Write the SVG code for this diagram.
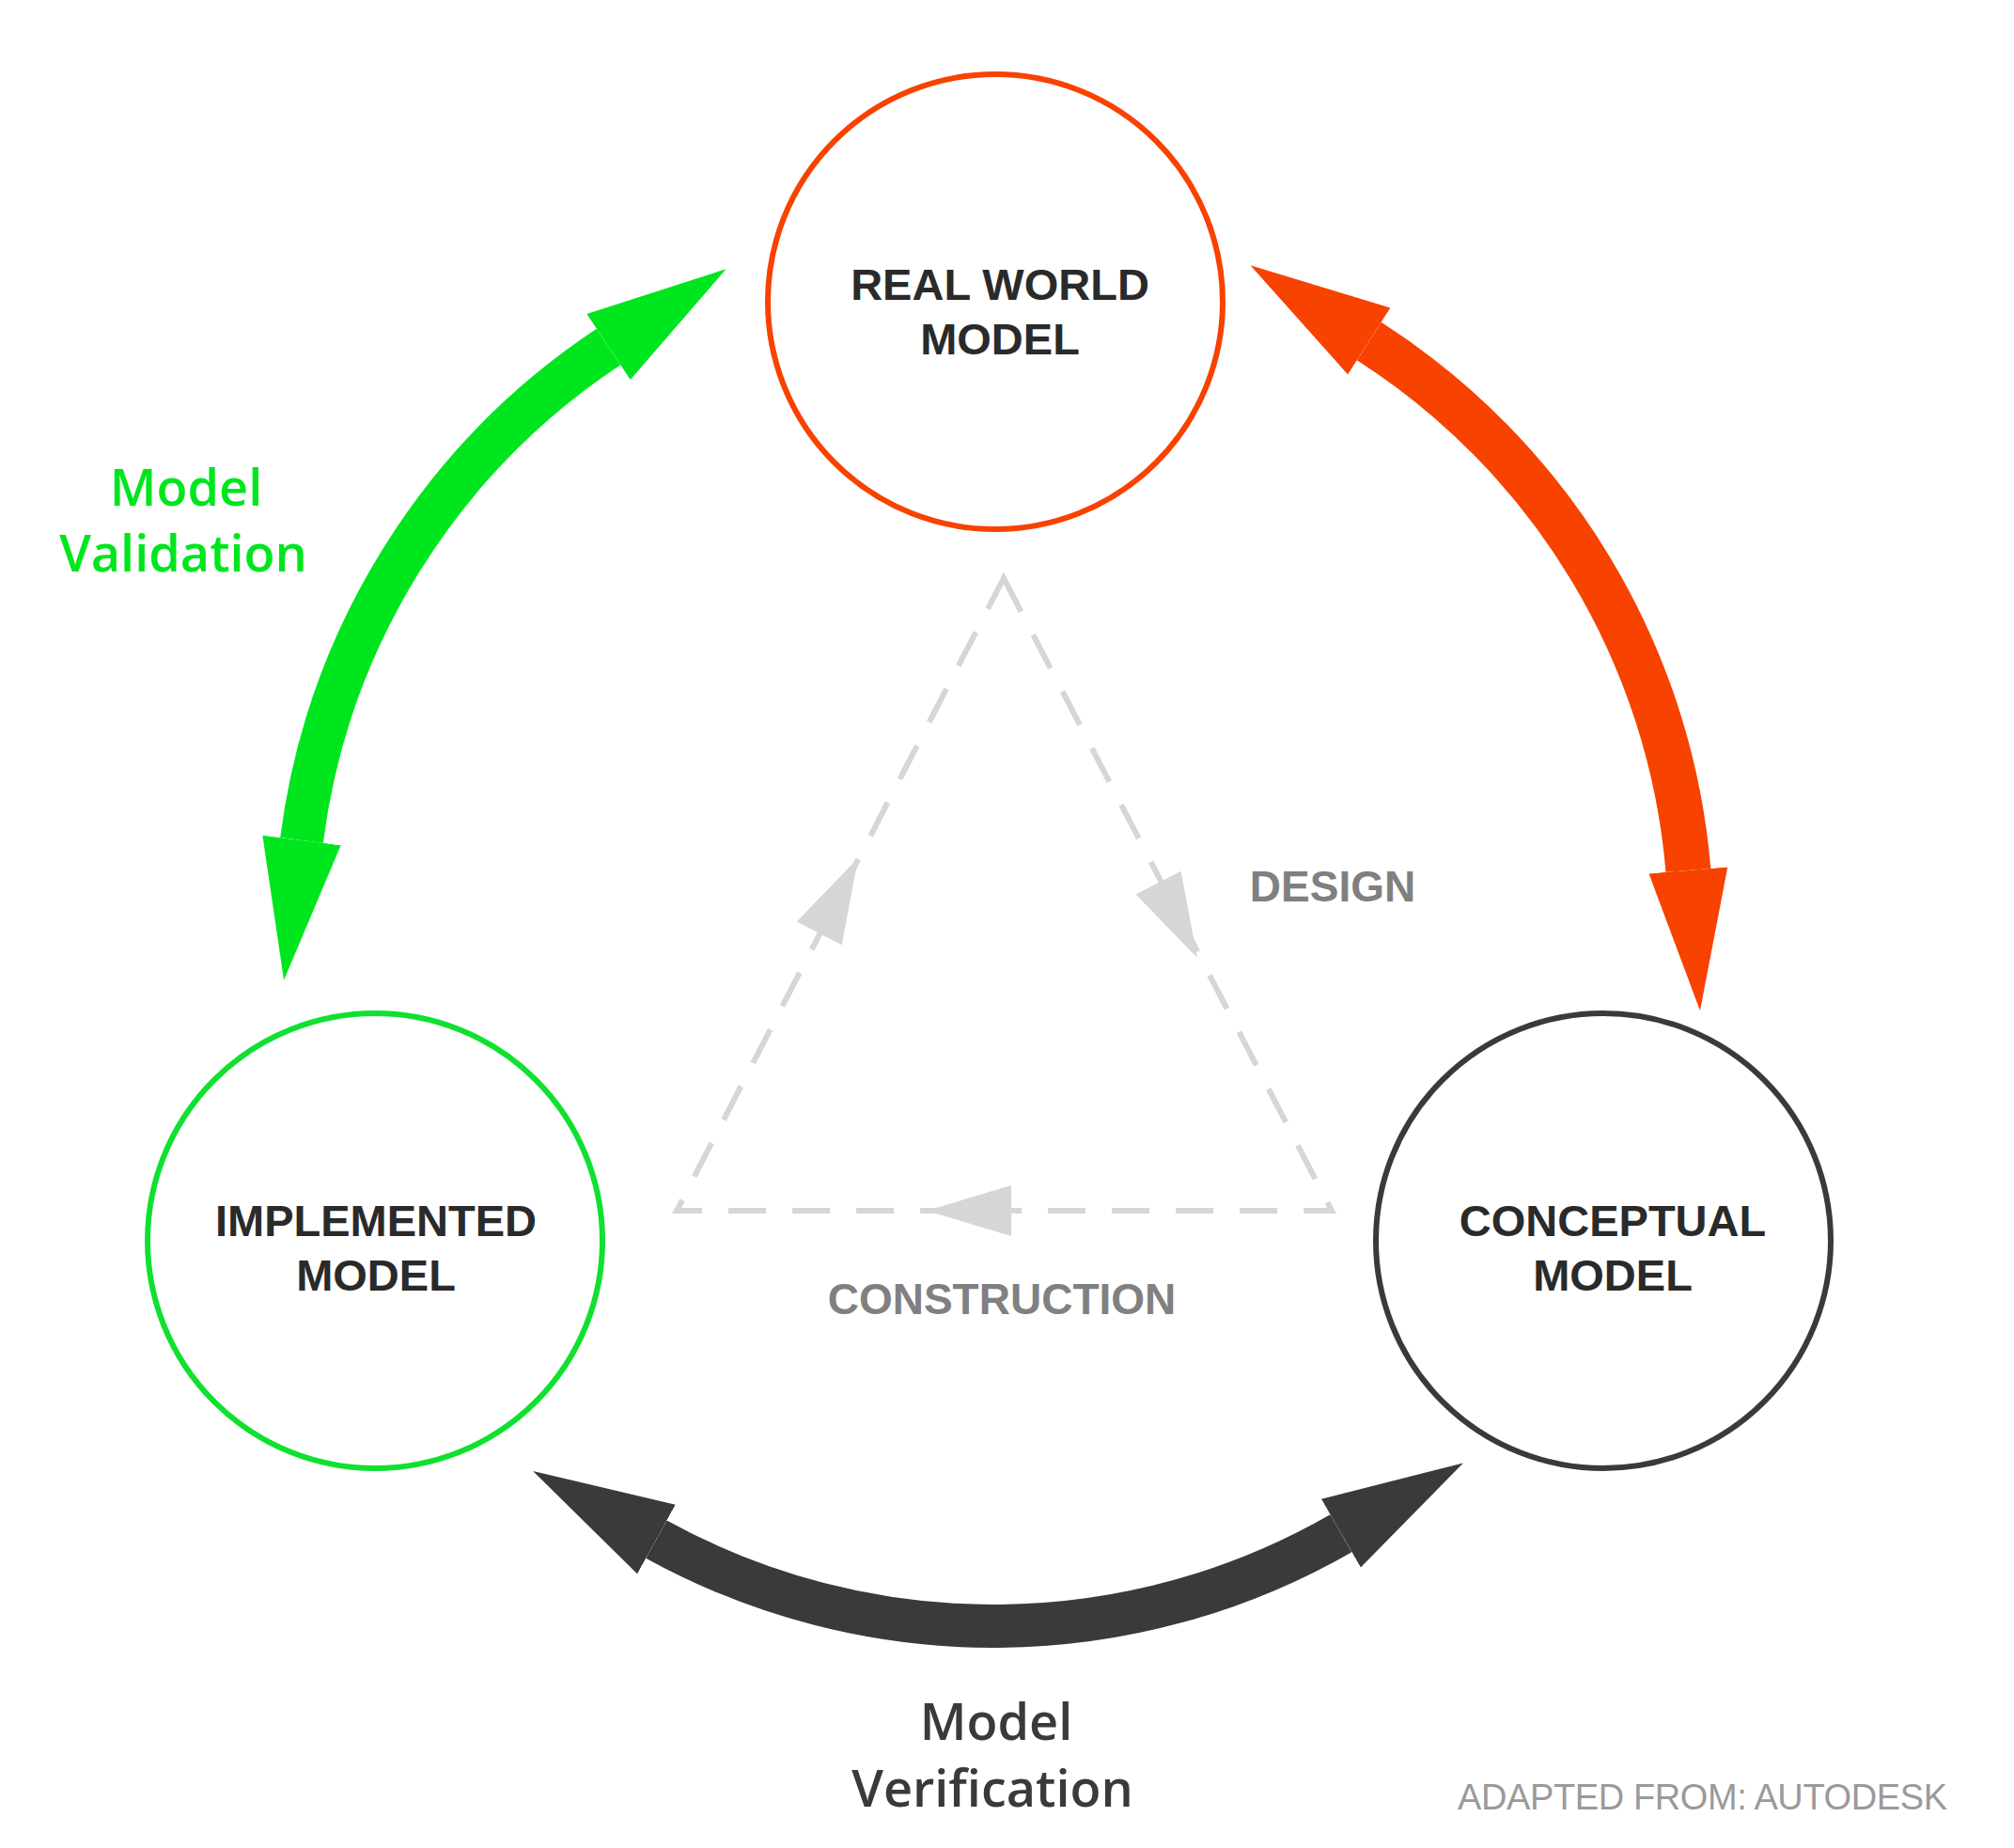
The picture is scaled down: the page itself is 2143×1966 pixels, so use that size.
<svg xmlns="http://www.w3.org/2000/svg" width="2143" height="1966" viewBox="0 0 2143 1966">
<style>
.node{fill:#fff;stroke-width:6}
.lbl{font-family:"Liberation Sans",Arial,sans-serif;font-weight:bold;font-size:47px;fill:#2a2a2a;text-anchor:middle}
.gl{font-family:"Liberation Sans",Arial,sans-serif;font-weight:bold;font-size:46px;fill:#808080;text-anchor:middle}
.big{font-family:"Open Sans","Noto Sans",sans-serif;font-weight:600;font-size:54px;text-anchor:middle}
.dash{fill:none;stroke:#d6d6d6;stroke-width:6;stroke-dasharray:40 28}
</style>
<defs>
<marker id="hg" markerUnits="userSpaceOnUse" markerWidth="160" markerHeight="100" refX="0" refY="42" orient="auto-start-reverse"><path d="M0,0 L150,42 L0,84 Z" fill="#00e61e"/></marker>
<marker id="hr" markerUnits="userSpaceOnUse" markerWidth="160" markerHeight="100" refX="0" refY="42" orient="auto-start-reverse"><path d="M0,0 L150,42 L0,84 Z" fill="#f74200"/></marker>
<marker id="hd" markerUnits="userSpaceOnUse" markerWidth="160" markerHeight="100" refX="0" refY="42" orient="auto-start-reverse"><path d="M0,0 L150,42 L0,84 Z" fill="#3a3a3a"/></marker>
</defs>
<g id="connectors">
<path d="M321,894 A742,742 0 0 1 647.5,369" fill="none" stroke="#00e61e" stroke-width="46" marker-start="url(#hg)" marker-end="url(#hg)"/>
<path d="M1456.8,363 A742,742 0 0 1 1796.4,925.9" fill="none" stroke="#f74200" stroke-width="48" marker-start="url(#hr)" marker-end="url(#hr)"/>
<path d="M1426.9,1631.2 A742,742 0 0 1 698.4,1637.6" fill="none" stroke="#3a3a3a" stroke-width="46" marker-start="url(#hd)" marker-end="url(#hd)"/>
<path class="dash" d="M1068,615 L1417,1288 L720,1288 Z"/>
<polygon points="913,913 895.7,1005.3 847.7,980.5" fill="#d6d6d6"/>
<polygon points="1274,1019 1208.6,951.5 1256.6,926.7" fill="#d6d6d6"/>
<polygon points="986,1288 1076,1261 1076,1315" fill="#d6d6d6"/>
</g>
<g id="real"><circle class="node" cx="1059" cy="321" r="242" stroke="#f74200"/><text class="lbl" x="1064" y="319">REAL WORLD</text><text class="lbl" x="1064" y="377">MODEL</text></g>
<g id="implemented"><circle class="node" cx="399" cy="1320" r="242" stroke="#10e030"/><text class="lbl" x="400" y="1315">IMPLEMENTED</text><text class="lbl" x="400" y="1373">MODEL</text></g>
<g id="conceptual"><circle class="node" cx="1706" cy="1320" r="242" stroke="#3a3a3a"/><text class="lbl" x="1716" y="1315">CONCEPTUAL</text><text class="lbl" x="1716" y="1373">MODEL</text></g>
<text class="gl" x="1418" y="959">DESIGN</text>
<text class="gl" x="1066" y="1398">CONSTRUCTION</text>
<text class="big" x="198" y="538" fill="#00e61e">Model</text>
<text class="big" x="195" y="608" fill="#00e61e">Validation</text>
<text class="big" x="1060" y="1851" fill="#3a3a3a">Model</text>
<text class="big" x="1056" y="1922" fill="#3a3a3a">Verification</text>
<text x="1551" y="1925" font-family="Liberation Sans,Arial,sans-serif" font-size="38" fill="#9a9a9a" textLength="521">ADAPTED FROM: AUTODESK</text>
</svg>
